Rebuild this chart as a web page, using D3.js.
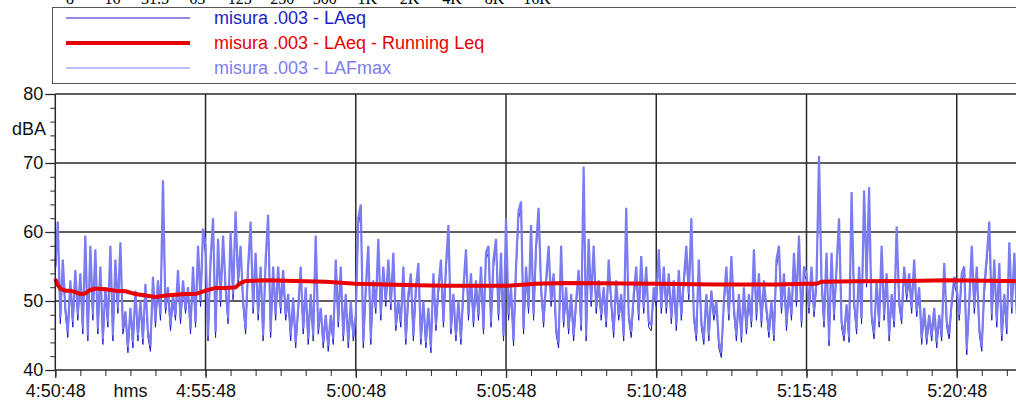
<!DOCTYPE html>
<html>
<head>
<meta charset="utf-8">
<script src="https://cdn.jsdelivr.net/npm/d3@7"></script>
<style>
  html, body { margin: 0; padding: 0; background: #fff; }
  svg { display: block; font-family: "Liberation Sans", Arial, sans-serif; }
</style>
</head>
<body>
<svg></svg>
<script>
const [svgWidth, svgHeight] = [1016, 403];

// --- data ---
const startTime = '4:50:48';
const xTickLabels = ['4:50:48', '4:55:48', '5:00:48', '5:05:48', '5:10:48', '5:15:48', '5:20:48'];
const yTicks = [40, 50, 60, 70, 80];
const octaveLabels = ['8', '16', '31.5', '63', '125', '250', '500', '1K', '2K', '4K', '8K', '16K'];
const legendNames = ['misura .003 - LAeq', 'misura .003 - LAeq - Running Leq', 'misura .003 - LAFmax'];

const sampleStep = 5; // seconds between samples
const lafmax = [
  55,61.5,47.5,56,49,45.5,53,47,54.5,48, 54,46,59.5,45,58,48,57.5,46,55,44.5,
  52,47,58,45,56,49,58.5,46,48.5,43.3, 49,44,51.5,45,50,44.5,52.5,45.5,43.5,53.5,
  47,53,48,67.5,49,52,46.5,51,48,54.5, 47.5,53,49,52,46,55,47,58,50,60.5,
  58,45,56,62,45.5,59,50,59.5,52,47.5, 60,51,63,53,58,50,46,55,61.5,49,
  57,48,55,45,56,62.5,45.5,55,48,55, 49,54.5,48,51,45,50.5,44,49,55,46,
  52,44.5,51,45,59.5,46,49,44,48,43.5, 48,44.5,56,47,55,45,51,44,50,45,
  48,62,64,44,52,58,44.5,53,49,59, 48,55,50,56,49.5,57,46.5,50,47,55,
  44.5,51,54,45,52,55.5,44.5,50,44,49, 43.3,54,46.5,52,56,47,55,61,46,51,
  45,50,44.5,52,57.5,48,54,47,53,48, 55,46,57,58,47,56,59,48,57,45,
  62,48,52,44.3,55,63,64.4,46,55,49, 61,48,58,63.5,52,47,53,58,50,54,
  46,44,58,47,52,46,51,45,50,54.5, 46.5,69.5,45,59,50,58,49,53,48,52,
  47,56,50,45.5,53,48,51,45,63.5,48, 45.5,51,55,48,56.5,49,55,47,46.5,52,
  50,57.5,49,55,49,54,47.5,53,46.5,54.5, 48,53,58,51,62,48,45,56,47,44.5,
  51,45,51.5,48,50,44,42.6,50,55,48, 56.5,49,45,51,44.8,52,46,51,47,57.5,
  48,54,47,53,49,45.5,50,45,56,58, 49,54,46.5,52,48,57,50,59.5,47,55,
  54,49,55,48.5,53,71,53,47,57,44.3, 57,48,55,62,47,45,49.5,44.8,65.8,50,
  46,55,47.5,66,53,66.5,48,45.3,53,47, 58,48,54,45,51,47,60.8,50,47.5,55,
  51,54,49,56,48.5,52,44.5,49,44.5,48, 45,49,44,48,45,55.5,47,45.3,50,53.5,
  52,48,54,55,43,50,58,49,55,46, 43.5,52,56.5,61.5,48,56,47,55.5,45,51,
  46,58.5,49,57,48,52
];
const laeq = [
  54,60,46.7,55,48.2,44.7,52,46.2,53.5,47.2, 53,45.2,58,44.2,57,47.2,56.5,45.2,54,43.7,
  51,46.2,57,44.2,55,48.2,57.5,45.2,47.7,42.5, 48.2,43.2,50.5,44.2,49.2,43.7,51.5,44.7,42.7,52.5,
  46.2,52,47.2,65,48.2,51,45.7,50,47.2,53.5, 46.7,52,48.2,51,45.2,54,46.2,57,49.2,59.5,
  57,44.2,55,61,44.7,58,49.2,58.5,51.2,46.7, 59,50.2,62,52.2,57,49.2,45.2,54,60.5,48.2,
  56,47.2,54,44.2,55,61.5,44.7,54,47.2,54, 48.2,53.5,47.2,50,44.2,49.5,43.2,48.2,54,45.2,
  51,43.7,50,44.2,58,45.2,48.2,43.2,47.2,42.7, 47.2,43.7,55,46.2,54,44.2,50,43.2,49.2,44.2,
  47.2,61,63,43.2,51,57,43.7,52,48.2,58, 47.2,54,49.2,55,48.7,56,45.7,49.2,46.2,54,
  43.7,50,53,44.2,51,54.5,43.7,49.2,43.2,48.2, 42.5,53,45.7,51,55,46.2,54,60,45.2,50,
  44.2,49.2,43.7,51,56.5,47.2,53,46.2,52,47.2, 54,45.2,56,57,46.2,55,58,47.2,56,44.2,
  61,47.2,51,43.5,54,62,63.4,45.2,54,48.2, 60,47.2,57,62.5,51.2,46.2,52,57,49.2,53,
  45.2,43.2,57,46.2,51,45.2,50,44.2,49.2,53.5, 45.7,67,44.2,58,49.2,57,48.2,52,47.2,51,
  46.2,55,49.2,44.7,52,47.2,50,44.2,62,47.2, 44.7,50,54,47.2,55.5,48.2,54,46.2,45.7,51,
  49.2,56.5,48.2,54,48.2,53,46.7,52,45.7,53.5, 47.2,52,57,50.2,61,47.2,44.2,55,46.2,43.7,
  50,44.2,50.5,47.2,49.2,43.2,41.8,49.2,54,47.2, 55.5,48.2,44.2,50,44,51,45.2,50,46.2,56.5,
  47.2,53,46.2,52,48.2,44.7,49.2,44.2,55,57, 48.2,53,45.7,51,47.2,56,49.2,58.5,46.2,54,
  53,48.2,54,47.7,52,69,52,46.2,56,43.5, 56,47.2,54,61,46.2,44.2,48.7,44,64,49.2,
  45.2,54,46.7,64.5,52,65,47.2,44.5,52,46.2, 57,47.2,53,44.2,50,46.2,59.8,49.2,46.7,54,
  50.2,53,48.2,55,47.7,51,43.7,48.2,43.7,47.2, 44.2,48.2,43.2,47.2,44.2,54.5,46.2,44.5,49.2,52.5,
  51,47.2,53,54,42.2,49.2,57,48.2,54,45.2, 42.7,51,55.5,60.5,47.2,55,46.2,54.5,44.2,50,
  45.2,57.5,48.2,56,47.2,51
];
const runSec = [0,5,10,20,30,40,50,60,70,80, 100,120,140,160,180,200,220,240,260,280,
  300,320,340,360,370,380,420,480,540,600, 660,720,780,840,900,960,1020,1200,1320,1440,
  1500,1520,1530,1600,1700,1780,1900,1950];
const runLeq = [53.2,52.3,51.8,51.5,51.5,51.3,51.0,51.1,51.6,51.8, 51.7,51.5,51.4,51.0,50.8,50.6,50.8,50.9,51.0,51.0,
  51.5,51.9,51.9,52.0,52.6,52.9,53.0,52.9,52.8,52.5, 52.4,52.3,52.2,52.2,52.2,52.5,52.6,52.5,52.4,52.4,
  52.5,52.5,52.8,52.85,52.9,53.0,52.9,52.8];

const colors = { laeq: '#1c1cc4', run: '#e80000', lafmax: '#7c7cf2', grid: '#2a2a2a' };

const toSec = s => {
  const [h, m, sec] = s.split(':').map(Number);
  return h * 3600 + m * 60 + sec;
};
const t0 = toSec(startTime);
const xTickSec = xTickLabels.map(d => toSec(d) - t0);

const svg = d3.select('svg')
  .attr('width', svgWidth)
  .attr('height', svgHeight);

const plot = { left: 55.3, top: 94, bottom: 370 };
const pxPerSec = 0.5008;
const x = d3.scaleLinear()
  .domain([0, 1950])
  .range([plot.left, plot.left + 1950 * pxPerSec]);
const y = d3.scaleLinear()
  .domain([40, 80])
  .range([plot.bottom, plot.top]);

// octave axis of the chart above, cut by the top edge
const oct = d3.scalePoint().domain(octaveLabels).range([70, 537]);
svg.append('g')
  .selectAll('text')
  .data(octaveLabels)
  .join('text')
  .attr('x', d => oct(d))
  .attr('y', 4)
  .attr('text-anchor', 'middle')
  .style('font-family', '"Liberation Serif", "Times New Roman", serif')
  .style('font-size', '16px')
  .text(d => d);

// legend
const legend = svg.append('g');
legend.append('rect')
  .attr('x', 52.5).attr('y', 7.5)
  .attr('width', 1000).attr('height', 76)
  .attr('fill', '#fff')
  .attr('stroke', '#555');
const legendItems = [
  { color: colors.laeq, width: 1.2 },
  { color: colors.run, width: 4 },
  { color: colors.lafmax, width: 1.2 }
];
legendItems.forEach((d, i) => {
  const ly = 18 + i * 25;
  legend.append('line')
    .attr('x1', 66).attr('x2', 190)
    .attr('y1', ly).attr('y2', ly)
    .attr('stroke', d.color)
    .attr('stroke-width', d.width);
  legend.append('text')
    .attr('x', 214).attr('y', ly)
    .attr('dominant-baseline', 'central')
    .attr('fill', d.color)
    .style('font-size', '18px')
    .text(legendNames[i]);
});

// grid
const grid = svg.append('g')
  .attr('stroke', colors.grid)
  .attr('stroke-width', 1.5);
grid.selectAll('line.h')
  .data([50, 60, 70, 80])
  .join('line')
  .attr('x1', plot.left).attr('x2', svgWidth)
  .attr('y1', d => y(d)).attr('y2', d => y(d));
grid.selectAll('line.v')
  .data(xTickSec.slice(1))
  .join('line')
  .attr('class', 'v')
  .attr('x1', d => x(d)).attr('x2', d => x(d))
  .attr('y1', plot.top).attr('y2', plot.bottom);

// series
const indexLine = d3.line()
  .x((d, i) => x(i * sampleStep))
  .y(d => y(d));
svg.append('path')
  .datum(laeq)
  .attr('d', indexLine)
  .attr('fill', 'none')
  .attr('stroke', colors.laeq)
  .attr('stroke-width', 1);
svg.append('path')
  .datum(lafmax)
  .attr('d', indexLine)
  .attr('fill', 'none')
  .attr('stroke', colors.lafmax)
  .attr('stroke-width', 2.2)
  .attr('stroke-linejoin', 'bevel');
svg.append('path')
  .datum(runSec.map((s, i) => [s, runLeq[i]]))
  .attr('d', d3.line().x(d => x(d[0])).y(d => y(d[1])))
  .attr('fill', 'none')
  .attr('stroke', colors.run)
  .attr('stroke-width', 4);

// y axis
const yAxis = svg.append('g')
  .attr('transform', `translate(${plot.left}, 0)`)
  .call(d3.axisLeft(y).tickValues(yTicks).tickSize(10).tickPadding(2))
  .call(g => g.select('.domain').remove());
yAxis.selectAll('line').attr('stroke', colors.grid).attr('stroke-width', 1.3);
yAxis.selectAll('text')
  .attr('fill', '#111')
  .style('font-family', '"Liberation Sans", Arial, sans-serif')
  .style('font-size', '18px');
svg.append('g')
  .attr('transform', `translate(${plot.left}, 0)`)
  .call(d3.axisLeft(y).tickValues(d3.range(40, 81, 2)).tickSize(5).tickFormat(''))
  .call(g => g.select('.domain').remove())
  .selectAll('line').attr('stroke', colors.grid);
svg.append('text')
  .attr('x', 46).attr('y', 129)
  .attr('text-anchor', 'end')
  .attr('dominant-baseline', 'central')
  .attr('fill', '#111')
  .style('font-size', '18px')
  .text('dBA');

// x axis
const xAxis = svg.append('g')
  .attr('transform', `translate(0, ${plot.bottom})`)
  .call(d3.axisBottom(x).tickValues(xTickSec).tickSize(8).tickPadding(6)
    .tickFormat((d, i) => xTickLabels[i]))
  .call(g => g.select('.domain').remove());
xAxis.selectAll('line').attr('stroke', colors.grid).attr('stroke-width', 1.3);
xAxis.selectAll('text')
  .attr('fill', '#111')
  .style('font-family', '"Liberation Sans", Arial, sans-serif')
  .style('font-size', '18px');
svg.append('g')
  .attr('transform', `translate(0, ${plot.bottom})`)
  .call(d3.axisBottom(x).tickValues(d3.range(0, 1951, 50)).tickSize(6).tickFormat(''))
  .call(g => g.select('.domain').remove())
  .selectAll('line').attr('stroke', colors.grid);
svg.append('text')
  .attr('x', x(150)).attr('y', plot.bottom + 14)
  .attr('dy', '0.71em')
  .attr('text-anchor', 'middle')
  .attr('fill', '#111')
  .style('font-size', '18px')
  .text('hms');

// frame
const frame = svg.append('g')
  .attr('stroke', colors.grid)
  .attr('stroke-width', 1.5);
frame.append('line')
  .attr('x1', plot.left).attr('x2', plot.left)
  .attr('y1', plot.top).attr('y2', plot.bottom);
frame.append('line')
  .attr('x1', plot.left).attr('x2', svgWidth)
  .attr('y1', plot.bottom).attr('y2', plot.bottom);
</script>
</body>
</html>
